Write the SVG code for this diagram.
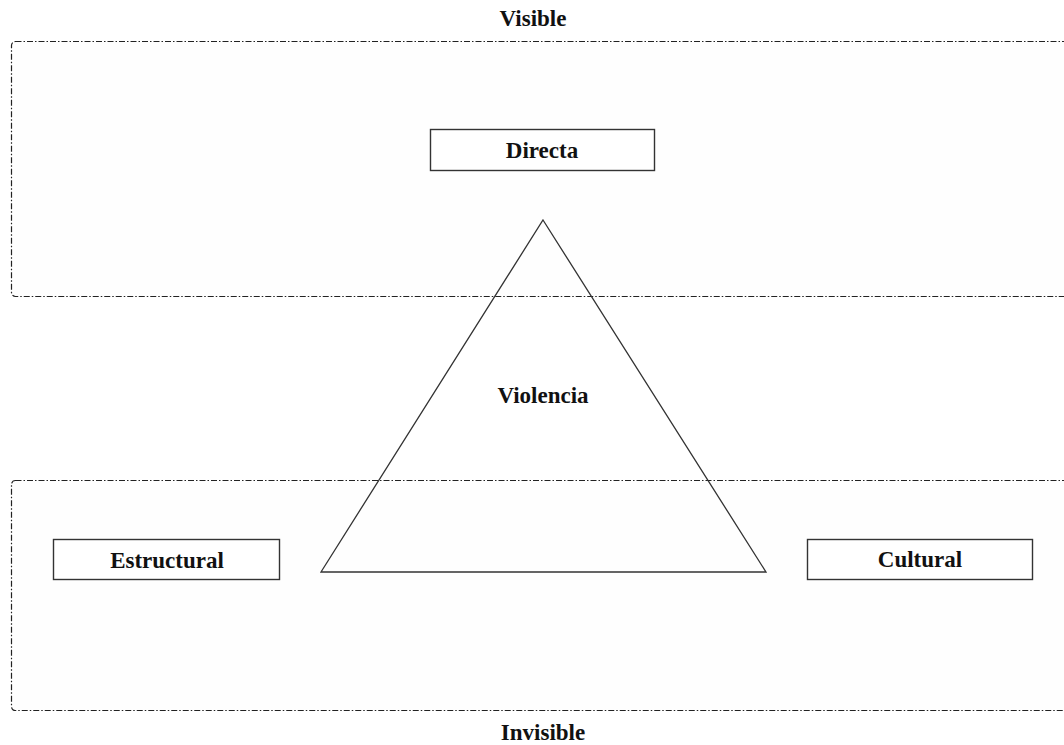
<svg xmlns="http://www.w3.org/2000/svg" width="1064" height="745" viewBox="0 0 1064 745">
<style>
.zone{fill:#fefefe;stroke:#222;stroke-width:1.2;stroke-dasharray:6 2 1.5 2}
.box{fill:#fff;stroke:#333;stroke-width:1.4}
.t{font-family:"Liberation Serif",serif;font-weight:bold;font-size:23px;fill:#111;text-anchor:middle}
.tri{fill:none;stroke:#333;stroke-width:1.3}
</style>
<rect width="1064" height="745" fill="#fff"/>
<g id="zone-visible">
<rect class="zone" x="11.5" y="41.5" width="1070" height="255" rx="4"/>
<text class="t" x="533" y="26">Visible</text>
</g>
<g id="zone-invisible">
<rect class="zone" x="11.5" y="480.5" width="1070" height="230" rx="4"/>
<text class="t" x="543" y="740">Invisible</text>
</g>
<g id="connectors">
<polygon class="tri" points="543,220 766,572 321,572"/>
</g>
<g id="violencia">
<text class="t" x="543" y="403">Violencia</text>
</g>
<g id="directa">
<rect class="box" x="430.5" y="129.5" width="224" height="41"/>
<text class="t" x="542" y="158">Directa</text>
</g>
<g id="estructural">
<rect class="box" x="53.5" y="539.5" width="226" height="40"/>
<text class="t" x="167" y="568">Estructural</text>
</g>
<g id="cultural">
<rect class="box" x="807.5" y="539.5" width="225" height="40"/>
<text class="t" x="920" y="567">Cultural</text>
</g>
</svg>
